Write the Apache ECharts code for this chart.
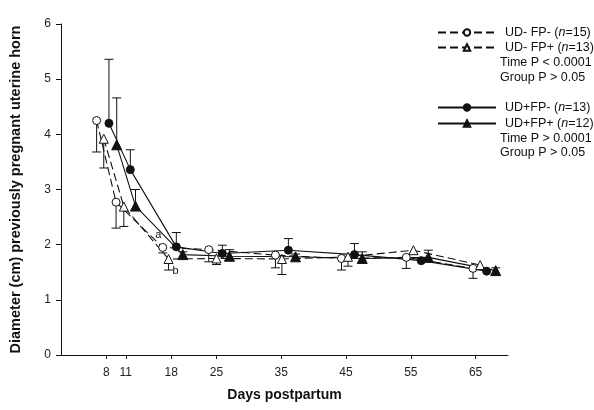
<!DOCTYPE html>
<html lang="en">
<head>
  <meta charset="UTF-8">
  <script src="https://cdn.jsdelivr.net/npm/echarts@6/dist/echarts.min.js"></script>
  <style>
    html, body { margin: 0; padding: 0; background: #fff; }
    #chart { width: 594px; height: 410px; }
  </style>
</head>
<body>
  <div id="chart"></div>
  <script>
    // x ticks shown on the axis
    const dayTicks = [8, 11, 18, 25, 35, 45, 55, 65];

    // UD- FP- (open circle, dashed); error bar goes down
    const daysA = [6.5, 9.5, 16.7, 23.8, 34.1, 44.3, 54.3, 64.6];
    const diamA = [4.25, 2.77, 1.95, 1.91, 1.81, 1.75, 1.77, 1.57];
    const semA  = [0.57, 0.47, 0.10, 0.22, 0.23, 0.21, 0.20, 0.18];

    // UD- FP+ (open triangle, dashed); error bar goes down
    const daysB = [7.6, 10.7, 17.6, 25.0, 35.1, 45.3, 55.4, 65.7];
    const diamB = [3.92, 2.69, 1.74, 1.75, 1.74, 1.78, 1.90, 1.63];
    const semB  = [0.53, 0.36, 0.20, 0.11, 0.28, 0.17, 0.06, 0.05];

    // UD+ FP- (filled circle, solid); error bar goes up
    const daysC = [8.4, 11.7, 18.8, 25.9, 36.1, 46.3, 56.6, 66.7];
    const diamC = [4.20, 3.36, 1.96, 1.84, 1.90, 1.82, 1.71, 1.52];
    const semC  = [1.16, 0.36, 0.26, 0.15, 0.21, 0.20, 0.05, 0.03];

    // UD+ FP+ (filled triangle, solid); error bar goes up
    const daysD = [9.6, 12.5, 19.8, 27.0, 37.2, 47.5, 57.7, 68.1];
    const diamD = [3.81, 2.70, 1.82, 1.79, 1.78, 1.75, 1.77, 1.53];
    const semD  = [0.85, 0.30, 0.05, 0.12, 0.05, 0.12, 0.13, 0.05];

    const groupNames = ['UD- FP-', 'UD- FP+', 'UD+FP-', 'UD+FP+'];
    const groupN = [15, 13, 13, 12];

    const FONT = '"Liberation Sans", Arial, sans-serif';
    const INK = '#111';

    const pairs = (xs, ys) => xs.map((x, i) => [x, ys[i]]);
    // error bar data: [x, y, y end]
    const bars = (xs, ys, es, dir) => xs.map((x, i) => [x, ys[i], ys[i] + dir * es[i]]);

    function errorSeries(data) {
      return {
        type: 'custom',
        silent: true,
        z: 1,
        data: data,
        renderItem: (params, api) => {
          const p0 = api.coord([api.value(0), api.value(1)]);
          const p1 = api.coord([api.value(0), api.value(2)]);
          const w = 4.5;
          const style = { stroke: INK, lineWidth: 1 };
          return {
            type: 'group',
            children: [
              { type: 'line', shape: { x1: p0[0], y1: p0[1], x2: p1[0], y2: p1[1] }, style },
              { type: 'line', shape: { x1: p1[0] - w, y1: p1[1], x2: p1[0] + w, y2: p1[1] }, style }
            ]
          };
        }
      };
    }

    function lineSeries(name, data, symbol, size, filled, dashed) {
      return {
        name: name,
        type: 'line',
        z: 3,
        data: data,
        symbol: symbol,
        symbolSize: size,
        showAllSymbol: true,
        lineStyle: { color: INK, width: 1.1, type: dashed ? [8, 4] : 'solid' },
        itemStyle: { color: filled ? INK : '#fff', borderColor: INK, borderWidth: 1 },
        emphasis: { disabled: true }
      };
    }

    const dataA = pairs(daysA, diamA);
    const dataB = pairs(daysB, diamB);
    // letters next to the day-18 points
    dataA[2] = { value: dataA[2], label: { show: true, formatter: 'a', position: [-3, -13], fontSize: 11, fontFamily: FONT, color: INK } };
    dataB[2] = { value: dataB[2], label: { show: true, formatter: 'b', position: [9, 11], fontSize: 11, fontFamily: FONT, color: INK } };

    const legendText = {
      fontFamily: FONT, fontSize: 12.5, color: INK, padding: [0, 0, 0, 4],
      rich: { i: { fontFamily: FONT, fontSize: 12.5, fontStyle: 'italic', color: INK } }
    };
    const legendFmt = name => {
      const n = groupN[groupNames.indexOf(name)];
      return name + ' ({i|n}=' + n + ')';
    };

    const statText = (txt, top) => ({
      type: 'text', left: 500, top: top,
      style: { text: txt, font: '12.5px ' + FONT, fill: INK }
    });

    const chart = echarts.init(document.getElementById('chart'));
    chart.setOption({
      animation: false,
      grid: { left: 60, right: 86, top: 24, bottom: 55 },
      xAxis: {
        type: 'value', min: 1, max: 70,
        name: 'Days postpartum', nameLocation: 'middle', nameGap: 33,
        nameTextStyle: { fontFamily: FONT, fontSize: 14, fontWeight: 'bold', color: INK },
        axisLine: { lineStyle: { color: INK, width: 1 } },
        axisTick: { show: true, length: 4, customValues: dayTicks, lineStyle: { color: INK } },
        axisLabel: { customValues: dayTicks, margin: 12, fontFamily: FONT, fontSize: 12, color: '#222' },
        splitLine: { show: false }
      },
      yAxis: {
        type: 'value', min: 0, max: 6, interval: 1,
        name: 'Diameter (cm) previously pregnant uterine horn', nameLocation: 'middle', nameGap: 38,
        nameTextStyle: { fontFamily: FONT, fontSize: 14.5, fontWeight: 'bold', color: INK },
        axisLine: { show: true, lineStyle: { color: INK, width: 1 } },
        axisTick: { show: true, length: 5, lineStyle: { color: INK } },
        axisLabel: { margin: 10, fontFamily: FONT, fontSize: 12, color: '#222' },
        splitLine: { show: false }
      },
      legend: [
        {
          data: groupNames.slice(0, 2), orient: 'vertical', left: 432, top: 21,
          itemWidth: 58, itemHeight: 8, itemGap: 2,
          textStyle: legendText, formatter: legendFmt, selectedMode: false
        },
        {
          data: groupNames.slice(2), orient: 'vertical', left: 432, top: 96,
          itemWidth: 58, itemHeight: 8, itemGap: 3,
          textStyle: legendText, formatter: legendFmt, selectedMode: false
        }
      ],
      graphic: [
        statText('Time P < 0.0001', 56),
        statText('Group P > 0.05', 71),
        statText('Time P > 0.0001', 132),
        statText('Group P > 0.05', 146)
      ],
      series: [
        errorSeries(bars(daysA, diamA, semA, -1)),
        errorSeries(bars(daysB, diamB, semB, -1)),
        errorSeries(bars(daysC, diamC, semC, 1)),
        errorSeries(bars(daysD, diamD, semD, 1)),
        lineSeries(groupNames[0], dataA, 'circle', 8, false, true),
        lineSeries(groupNames[1], dataB, 'triangle', 9, false, true),
        lineSeries(groupNames[2], pairs(daysC, diamC), 'circle', 8, true, false),
        lineSeries(groupNames[3], pairs(daysD, diamD), 'triangle', 10, true, false)
      ]
    });
  </script>
</body>
</html>
